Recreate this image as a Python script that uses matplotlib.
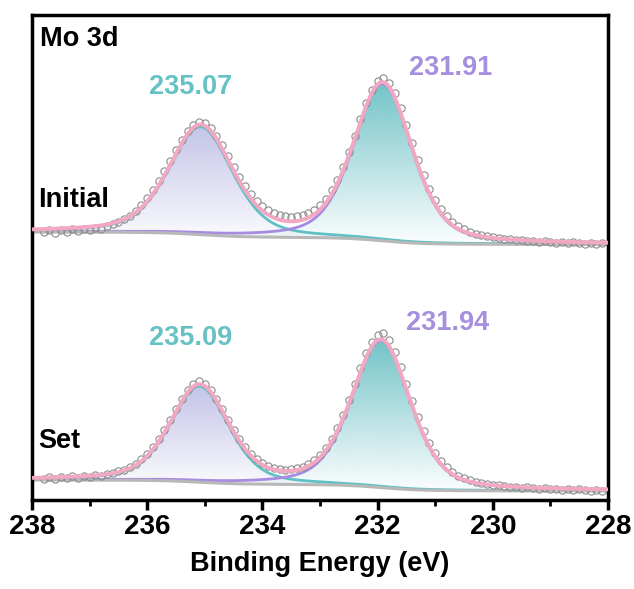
import numpy as np
import matplotlib
matplotlib.use("Agg")
import matplotlib.pyplot as plt
from matplotlib.patches import Polygon
from matplotlib.colors import to_rgb
from matplotlib.ticker import MultipleLocator

plt.rcParams['font.family'] = ['Liberation Sans', 'DejaVu Sans']
plt.rcParams['font.weight'] = 'bold'

# measured points, 237.8 -> 228.1 eV in 0.1 eV steps (intensity, a.u., stacked)
energy = np.linspace(237.8, 228.1, 98)
initial_counts = [
    271, 273, 270, 273, 271, 274, 272, 274, 273, 275,
    274, 277, 279, 281, 284, 287, 292, 298, 305, 313,
    322, 332, 342, 353, 363, 372, 378, 381, 380, 375,
    367, 358, 347, 336, 326, 317, 309, 302, 297, 293,
    290, 288, 287, 286, 287, 288, 290, 293, 298, 304,
    313, 323, 336, 351, 367, 384, 400, 413, 422, 425,
    420, 410, 395, 378, 360, 343, 328, 314, 303, 294,
    287, 281, 277, 274, 271, 269, 268, 267, 266, 265,
    264, 264, 263, 263, 262, 262, 261, 262, 261, 260,
    261, 260, 261, 260, 259, 260, 259, 260,
]
set_counts = [
    24, 26, 24, 26, 25, 27, 25, 27, 26, 28,
    27, 29, 30, 32, 33, 36, 39, 44, 49, 56,
    64, 73, 83, 94, 104, 113, 119, 122, 119, 113,
    104, 94, 83, 73, 64, 56, 49, 44, 40, 37,
    35, 34, 33, 34, 35, 36, 39, 43, 48, 55,
    64, 75, 88, 103, 119, 135, 150, 161, 168, 170,
    163, 151, 136, 119, 102, 86, 72, 60, 50, 42,
    36, 31, 27, 25, 23, 21, 20, 19, 18, 18,
    17, 16, 16, 15, 16, 15, 14, 15, 14, 14,
    13, 14, 13, 14, 13, 12, 13, 12,
]

# fitted peaks: (centre eV, height, fwhm)
initial_peaks = [(235.07, 108, 1.30), (231.91, 157, 1.20)]
set_peaks = [(235.09, 96, 1.20), (231.94, 147, 1.20)]
# background level on the high / low binding energy side
initial_bg = (271, 258.5)
set_bg = (23, 12)

peak_labels = {"initial": ["235.07", "231.91"], "set": ["235.09", "231.94"]}

fill_colors = ['#a4a4dc', '#5ab9be']
line_colors = ['#5fc1c4', '#a78be0']
label_colors = ['#66c2c4', '#a68fdf']


def pseudo_voigt(e, center, height, fwhm, eta=0.4):
    x = (e - center) / fwhm
    lor = 1 / (1 + 4 * x ** 2)
    gau = np.exp(-4 * np.log(2) * x ** 2)
    return height * (eta * lor + (1 - eta) * gau)


def shirley(comps, left, right):
    total = np.sum(comps, axis=0)
    cum = np.cumsum(total[::-1])[::-1]
    return right + (left - right) * cum / cum[0]


def gradient_fill(ax, e, base, top, color, a_top):
    verts = np.column_stack([np.r_[e, e[::-1]], np.r_[top, base[::-1]]])
    poly = Polygon(verts, closed=True, facecolor='none', edgecolor='none')
    ax.add_patch(poly)
    img = np.zeros((200, 2, 4))
    img[:, :, :3] = to_rgb(color)
    img[:, :, 3] = np.linspace(a_top, 0.02, 200)[:, None]
    im = ax.imshow(img, aspect='auto', origin='upper', zorder=1,
                   extent=[e.max(), e.min(), base.min(), top.max()])
    im.set_clip_path(poly)


fig = plt.figure(figsize=(6.34, 5.89), dpi=100)
ax = fig.add_axes([32 / 634, 89 / 589, 576 / 634, 485 / 589])

grid = np.linspace(238, 228, 800)
for counts, peaks, bgs in [(initial_counts, initial_peaks, initial_bg),
                           (set_counts, set_peaks, set_bg)]:
    comps = [pseudo_voigt(grid, c, h, w) for c, h, w in peaks]
    bg = shirley(comps, *bgs)
    for i, comp in enumerate(comps):
        gradient_fill(ax, grid, bg, bg + comp, fill_colors[i], 0.65 if i == 0 else 0.85)
        ax.plot(grid, bg + comp, color=line_colors[i], lw=2, zorder=2)
    ax.plot(grid, bg, color='#b8b8b8', lw=2.2, zorder=2)
    ax.plot(energy, counts, 'o', ms=5.2, mfc='none', mec='#8c8c8c', mew=0.8, zorder=3)
    ax.plot(grid, bg + np.sum(comps, axis=0), color='#f2a7c3', lw=2.8, zorder=4)

fs = 19.5
ax.text(237.86, 464, "Mo 3d", fontsize=fs, fontweight='bold', va='center', ha='left')
ax.text(237.9, 303, "Initial", fontsize=fs, fontweight='bold', va='center', ha='left')
ax.text(237.9, 62, "Set", fontsize=fs, fontweight='bold', va='center', ha='left')
ax.text(235.24, 416, peak_labels["initial"][0], color=label_colors[0], fontsize=fs,
        fontweight='bold', ha='center', va='center')
ax.text(230.74, 435, peak_labels["initial"][1], color=label_colors[1], fontsize=fs,
        fontweight='bold', ha='center', va='center')
ax.text(235.24, 165, peak_labels["set"][0], color=label_colors[0], fontsize=fs,
        fontweight='bold', ha='center', va='center')
ax.text(230.79, 180, peak_labels["set"][1], color=label_colors[1], fontsize=fs,
        fontweight='bold', ha='center', va='center')

ax.set_xlim(238, 228)
ax.set_ylim(3, 488)
ax.xaxis.set_major_locator(MultipleLocator(2))
ax.xaxis.set_minor_locator(MultipleLocator(1))
ax.set_yticks([])
ax.tick_params(axis='x', which='major', direction='out', length=7, width=2.5,
               labelsize=20, pad=3)
ax.tick_params(axis='x', which='minor', direction='out', length=4, width=2)
for s in ax.spines.values():
    s.set_linewidth(2.5)
ax.set_xlabel("Binding Energy (eV)", fontsize=19.5, fontweight='bold', labelpad=8)

fig.savefig("out.png", dpi=100)
